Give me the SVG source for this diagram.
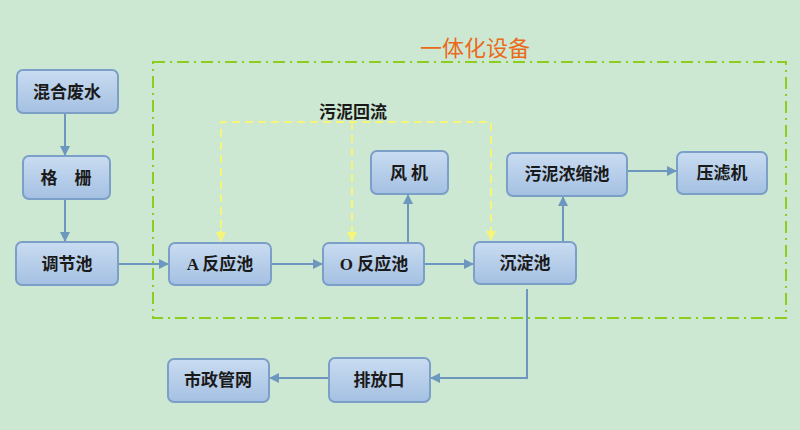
<svg xmlns="http://www.w3.org/2000/svg" width="800" height="430" viewBox="0 0 800 430">
<defs>
<linearGradient id="g" x1="0" y1="0" x2="0" y2="1">
<stop offset="0" stop-color="#c9dcf1"/>
<stop offset="1" stop-color="#a4c0e2"/>
</linearGradient>
<marker id="ab" viewBox="0 0 10 10" refX="9" refY="5" markerWidth="10" markerHeight="10" markerUnits="userSpaceOnUse" orient="auto">
<path d="M0,0 L10,5 L0,10 z" fill="#6e97bf"/>
</marker>
<marker id="ay" viewBox="0 0 10 10" refX="9" refY="5" markerWidth="10" markerHeight="10" markerUnits="userSpaceOnUse" orient="auto">
<path d="M0,0 L10,5 L0,10 z" fill="#f5f57a"/>
</marker>
</defs>
<style>
.n rect{fill:url(#g);stroke:#7b9fc7;stroke-width:2}
.n text{font-family:"Liberation Serif","Noto Sans CJK SC",serif;font-weight:bold;font-size:17px;fill:#1a1a1a;text-anchor:middle;dominant-baseline:central}
.c{fill:none;stroke:#6e97bf;stroke-width:2;marker-end:url(#ab)}
.y{fill:none;stroke:#f5f57a;stroke-width:2;stroke-dasharray:8,5}
.ym{marker-end:url(#ay)}
</style>
<rect width="800" height="430" fill="#cde8d2"/>
<rect x="153" y="62" width="633" height="256" fill="none" stroke="#8ccd1e" stroke-width="2" stroke-dasharray="12,5,2,5"/>
<text x="475" y="46" font-family="Noto Sans CJK SC,sans-serif" font-size="22" fill="#ea6a1c" text-anchor="middle" dominant-baseline="central">一体化设备</text>
<text x="353" y="110" font-family="Noto Sans CJK SC,sans-serif" font-weight="bold" font-size="17" fill="#1a1a1a" text-anchor="middle" dominant-baseline="central">污泥回流</text>
<g id="connectors">
<path class="c" d="M65,113 V155"/>
<path class="c" d="M65,199 V241"/>
<path class="c" d="M118,264 H168"/>
<path class="c" d="M271,264 H322"/>
<path class="c" d="M424,264 H473"/>
<path class="c" d="M408,243 V195"/>
<path class="c" d="M563,242 V197"/>
<path class="c" d="M627,171 H676"/>
<path class="c" d="M527,289 V378 H431"/>
<path class="c" d="M329,378 H270"/>
<path class="y" d="M221,241 V122 H491 V240"/>
<path class="y" d="M352,122 V241"/>
<path class="y ym" d="M221,230 V241"/>
<path class="y ym" d="M352,230 V241"/>
<path class="y ym" d="M491,230 V240"/>
</g>
<g id="n1" class="n"><rect x="17" y="70" width="101" height="43" rx="6"/><text x="67" y="92">混合废水</text></g>
<g id="n2" class="n"><rect x="23" y="156" width="87" height="43" rx="6"/><text x="66" y="178">格　栅</text></g>
<g id="n3" class="n"><rect x="16" y="242" width="102" height="43" rx="6"/><text x="67" y="264">调节池</text></g>
<g id="n4" class="n"><rect x="169" y="243" width="102" height="42" rx="6"/><text x="220" y="264">A 反应池</text></g>
<g id="n5" class="n"><rect x="323" y="243" width="101" height="42" rx="6"/><text x="374" y="264">O 反应池</text></g>
<g id="n6" class="n"><rect x="371" y="151" width="77" height="43" rx="6"/><text x="409" y="173">风 机</text></g>
<g id="n7" class="n"><rect x="474" y="242" width="102" height="42" rx="6"/><text x="525" y="263">沉淀池</text></g>
<g id="n8" class="n"><rect x="507" y="153" width="120" height="43" rx="6"/><text x="567" y="174">污泥浓缩池</text></g>
<g id="n9" class="n"><rect x="677" y="152" width="90" height="42" rx="6"/><text x="722" y="173">压滤机</text></g>
<g id="n10" class="n"><rect x="168" y="359" width="101" height="43" rx="6"/><text x="218" y="380">市政管网</text></g>
<g id="n11" class="n"><rect x="329" y="358" width="101" height="44" rx="6"/><text x="379" y="380">排放口</text></g>
</svg>
